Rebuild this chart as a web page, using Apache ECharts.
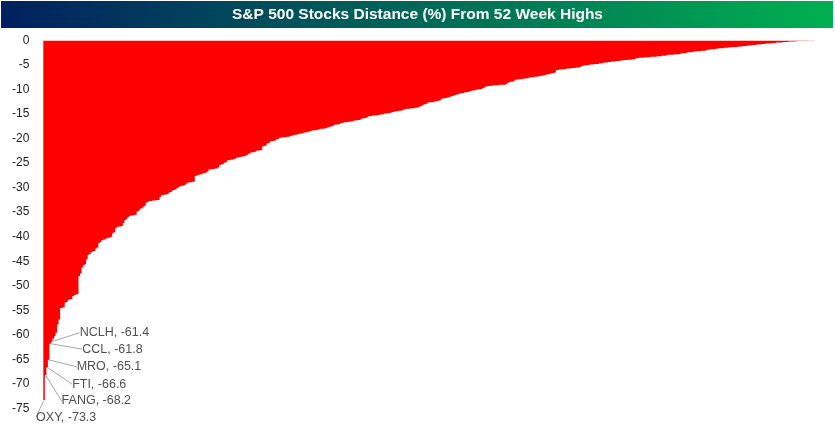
<!DOCTYPE html>
<html>
<head>
<meta charset="utf-8">
<script src="https://cdn.jsdelivr.net/npm/echarts@6/dist/echarts.min.js"></script>
<style>html,body{margin:0;padding:0;background:#fff}#c{width:835px;height:429px}</style>
</head>
<body>
<div id="c"></div>
<script>
// Distance (%) from 52-week high, sorted, one value per S&P 500 stock
const distances = [
-73.3,-68.2,-66.6,-65.1,-61.8,-61.4,-60.8,-60.3,-59.6,-57.9,-56.9,
-54.6,-54.5,-54.4,-53.4,-53.3,-52.9,-52.8,-52.7,-52.1,-51.9,-51.8,-51.7,
-48.0,-47.5,-46.3,-45.8,-45.6,-44.6,-43.7,-43.5,-43.1,-43.0,-42.9,-42.4,-42.2,
-41.3,-41.1,-40.7,-40.6,-40.5,-40.3,-40.2,-40.2,-40.0,-39.3,-39.1,-38.3,
-38.0,-37.9,-37.9,-37.8,-37.2,-36.6,-36.4,-36.0,-35.8,-35.7,-35.7,-35.6,-35.5,
-34.9,-34.7,-34.3,-34.2,-33.9,-33.7,-33.1,-32.9,
-32.7,-32.7,-32.6,-32.6,-32.6,-32.5,-32.5,-31.9,-31.5,-31.5,-31.4,-31.4,-31.3,
-31.0,-30.9,-30.6,-30.5,-30.4,-30.1,-29.9,-29.7,-29.6,-29.6,-29.5,-29.2,
-29.0,-28.9,-28.9,-28.8,-28.8,-27.6,-27.5,-27.4,-27.3,-27.2,-27.1,-27.0,-26.9,-26.7,
-26.3,-26.3,-26.2,-26.2,-26.1,-26.1,-25.9,-25.4,-25.3,-25.2,-24.9,-24.8,
-24.4,-24.4,-24.3,-24.3,-24.2,-24.1,-23.9,-23.8,-23.8,-23.7,-23.6,-23.6,-23.5,
-23.3,-23.1,-22.9,-22.8,-22.8,-22.7,-22.5,-22.4,-22.4,-22.3,-21.6,-21.5,-21.4,
-21.0,-20.9,-20.6,-20.5,-20.5,-20.4,-20.2,-20.1,-19.8,-19.8,
-19.7,-19.7,-19.7,-19.6,-19.6,-19.5,-19.4,-19.3,-19.2,-19.2,-19.1,-19.0,-19.0,-18.9,
-18.8,-18.7,-18.7,-18.6,-18.5,-18.4,-18.3,-18.3,-18.3,-18.2,-18.1,-18.0,-18.0,-18.0,-17.9,
-17.8,-17.7,-17.6,-17.5,-17.4,-17.2,-17.1,-17.1,-17.0,-16.8,-16.8,
-16.7,-16.6,-16.6,-16.6,-16.5,-16.5,-16.4,-16.3,-16.3,-16.2,-16.2,-16.1,
-15.9,-15.8,-15.8,-15.7,-15.5,-15.4,-15.4,-15.3,-15.3,-15.3,-15.2,-15.2,-15.1,-15.1,-15.0,
-14.9,-14.9,-14.8,-14.8,-14.7,-14.6,-14.5,-14.4,-14.4,-14.3,-14.3,-14.2,-14.1,-14.0,
-13.9,-13.9,-13.9,-13.8,-13.8,-13.8,-13.7,-13.7,-13.6,-13.4,-13.3,-13.1,-13.0,-12.9,
-12.7,-12.6,-12.6,-12.6,-12.5,-12.4,-12.4,-12.3,-12.2,
-11.9,-11.8,-11.7,-11.7,-11.6,-11.5,-11.4,-11.3,-11.2,-11.1,-11.0,-10.9,
-10.8,-10.7,-10.7,-10.6,-10.5,-10.5,-10.4,-10.3,-10.2,-10.2,-10.1,-10.0,-10.0,-9.9,-9.9,
-9.7,-9.6,-9.4,-9.3,-9.3,-9.2,-9.2,-9.1,-9.1,-9.1,-9.1,-9.0,-9.0,-9.0,-9.0,-8.9,-8.7,
-8.5,-8.4,-8.4,-8.3,-8.0,-8.0,-7.9,-7.9,-7.9,-7.8,-7.8,-7.7,-7.7,-7.6,
-7.5,-7.5,-7.5,-7.4,-7.4,-7.3,-7.3,-7.2,-7.2,-7.1,-7.0,-6.9,-6.9,-6.8,-6.7,-6.6,-6.5,
-6.0,-6.0,-5.9,-5.9,-5.9,-5.8,-5.8,-5.7,-5.7,-5.7,-5.6,-5.6,-5.6,-5.5,-5.5,-5.5,-5.3,
-5.2,-5.1,-5.1,-5.0,-5.0,-4.9,-4.9,-4.9,-4.8,-4.8,-4.8,-4.7,-4.7,-4.6,
-4.5,-4.5,-4.5,-4.4,-4.4,-4.3,-4.3,-4.3,-4.2,-4.2,-4.2,-4.1,-4.1,-4.0,-4.0,-4.0,
-3.9,-3.9,-3.9,-3.8,-3.8,-3.6,-3.6,-3.5,-3.5,-3.5,-3.5,-3.4,
-3.4,-3.4,-3.4,-3.3,-3.3,-3.3,-3.3,-3.2,-3.2,-3.2,-3.1,-3.1,-3.1,
-3.0,-2.9,-2.9,-2.9,-2.9,-2.8,-2.8,-2.8,-2.8,-2.7,-2.6,-2.6,-2.6,
-2.5,-2.4,-2.4,-2.4,-2.3,-2.3,-2.2,-2.2,-2.2,-2.2,-2.1,-2.1,-2.1,-2.0,
-1.9,-1.9,-1.8,-1.8,-1.8,-1.7,-1.7,-1.6,-1.6,-1.6,-1.6,-1.5,-1.5,
-1.5,-1.4,-1.4,-1.4,-1.3,-1.3,-1.3,-1.2,-1.2,-1.2,-1.1,-1.1,
-1.1,-1.0,-1.0,-1.0,-0.9,-0.9,-0.9,-0.8,-0.8,-0.8,-0.7,-0.7,
-0.7,-0.6,-0.6,-0.6,-0.6,-0.5,-0.5,-0.5,-0.4,-0.4,-0.4,-0.4,-0.3,-0.3,-0.3,
-0.3,-0.2,-0.2,-0.2,-0.2,-0.2,-0.1,
-0.1,-0.1,-0.1,-0.1,-0.1,-0.1,-0.1,-0.05,-0.05,-0.05,-0.05,-0.02
];
// Tickers of the labelled (worst) stocks, in bar order
const labelledTickers = ['OXY', 'FANG', 'FTI', 'MRO', 'CCL', 'NCLH'];
const yTicks = { min: -75, max: 0, step: 5 };
const titleText = 'S&P 500 Stocks Distance (%) From 52 Week Highs';

const categories = distances.map((_, i) => i < labelledTickers.length ? labelledTickers[i] : 'Stock ' + (i + 1));
const labelPoints = labelledTickers.map((t, i) => ({ name: t, value: [i, distances[i]] }));

// label placement (pixel offsets from bar end) : [dx, dy, showLine]
const labelOffsets = [
  [-8, 17, false],
  [16, 26, true],
  [25, 17, true],
  [28, 7, true],
  [32, 5.5, true],
  [28, -9, true]
];

const chart = echarts.init(document.getElementById('c'), null, { renderer: 'canvas' });
chart.setOption({
  animation: false,
  backgroundColor: '#ffffff',
  graphic: [{
    type: 'rect', left: 1, top: 1, z: -1,
    shape: { width: 832, height: 27 },
    style: { fill: new echarts.graphic.LinearGradient(0, 0, 1, 0, [
      { offset: 0, color: '#002060' }, { offset: 1, color: '#00B050' }]) }
  }],
  title: {
    text: titleText, left: 'center', top: 0, padding: [7, 0, 0, 0],
    textStyle: { color: '#ffffff', fontWeight: 'bold', fontSize: 15.5, fontFamily: '"Liberation Sans", Arial, sans-serif' }
  },
  grid: { left: 43.3, right: 19, top: 40.5, bottom: 20.6, containLabel: false },
  xAxis: {
    type: 'category', data: categories, show: false,
    boundaryGap: true
  },
  yAxis: {
    type: 'value', min: yTicks.min, max: yTicks.max, interval: yTicks.step,
    splitLine: { show: false }, axisLine: { show: false }, axisTick: { show: false },
    axisLabel: { color: '#222222', fontSize: 12, fontFamily: '"Liberation Sans", Arial, sans-serif', margin: 14 }
  },
  series: [{
    type: 'bar', data: distances, barCategoryGap: '0%', barGap: '0%',
    large: true, largeThreshold: 100,
    itemStyle: { color: '#FF0000' },
    silent: true
  }, {
    type: 'scatter', data: labelPoints, symbolSize: 1, z: 5,
    itemStyle: { color: 'rgba(0,0,0,0)' },
    label: {
      show: true, position: 'right',
      formatter: p => p.name + ', ' + p.value[1].toFixed(1),
      color: '#222222', fontSize: 12.5, fontFamily: '"Liberation Sans", Arial, sans-serif'
    },
    labelLine: { show: true, lineStyle: { color: '#A6A6A6', width: 1 } },
    labelLayout: function (params) {
      const o = labelOffsets[params.dataIndex];
      const px = params.rect.x + params.rect.width / 2;
      const py = params.rect.y + params.rect.height / 2;
      const lx = px + o[0], ly = py + o[1];
      const res = { x: lx, y: ly, align: 'left', verticalAlign: 'middle' };
      if (o[2]) {
        res.labelLinePoints = [[px, py], [lx - 9, ly], [lx - 2, ly]];
      } else {
        res.labelLinePoints = [[lx, ly], [lx, ly], [lx, ly]];
      }
      return res;
    }
  }]
});
</script>
</body>
</html>
